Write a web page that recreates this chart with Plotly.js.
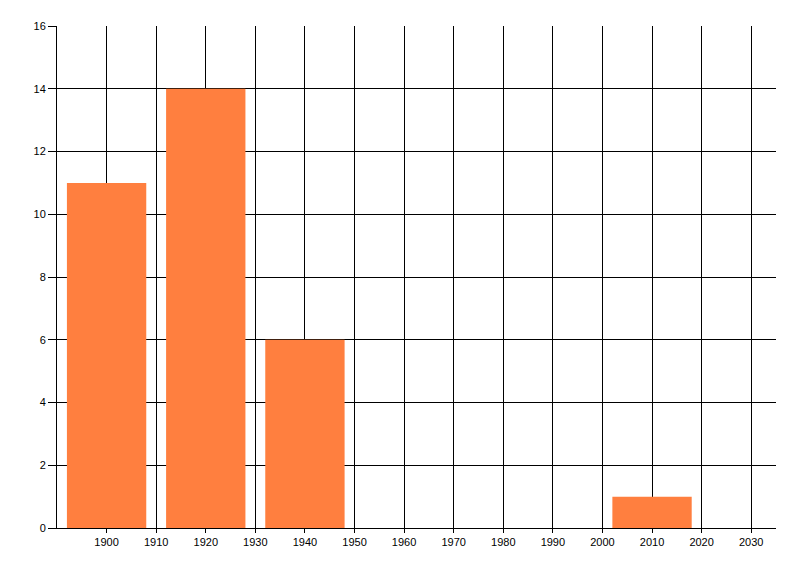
<!DOCTYPE html>
<html>
<head>
<meta charset="utf-8">
<script src="https://cdn.plot.ly/plotly-3.0.1.min.js"></script>
<style>html,body{margin:0;padding:0;background:#fff;}#chart{width:800px;height:576px;}</style>
</head>
<body>
<div id="chart"></div>
<script>
const years = [1900, 1920, 1940, 2010];
const counts = [11, 14, 6, 1];
const xTicks = [1900, 1910, 1920, 1930, 1940, 1950, 1960, 1970, 1980, 1990, 2000, 2010, 2020, 2030];
const yTicks = [0, 2, 4, 6, 8, 10, 12, 14, 16];

const trace = {
  type: 'bar',
  x: years,
  y: counts,
  width: 16,
  marker: {color: '#FF7F3F', line: {width: 0}},
  hoverinfo: 'x+y'
};

const layout = {
  width: 800, height: 576,
  margin: {l: 57, r: 24, t: 26, b: 48, pad: 0},
  paper_bgcolor: '#ffffff', plot_bgcolor: '#ffffff',
  showlegend: false,
  font: {family: 'Liberation Sans, Arial, sans-serif', size: 11, color: '#000'},
  xaxis: {
    range: [1890, 2035],
    tickvals: xTicks,
    ticktext: xTicks.map(String),
    showgrid: true, gridcolor: '#000', gridwidth: 1,
    showline: true, linecolor: '#000', linewidth: 1,
    ticks: 'outside', ticklen: 4, tickcolor: '#000',
    zeroline: false,
    tickfont: {size: 11, color: '#000'}
  },
  yaxis: {
    range: [0, 16],
    tickvals: yTicks,
    ticktext: yTicks.map(String),
    showgrid: true, gridcolor: '#000', gridwidth: 1,
    showline: true, linecolor: '#000', linewidth: 1,
    ticks: 'outside', ticklen: 8, tickcolor: '#000',
    zeroline: false,
    tickfont: {size: 11, color: '#000'}
  }
};

Plotly.newPlot('chart', [trace], layout, {displayModeBar: false, staticPlot: true});
</script>
</body>
</html>
